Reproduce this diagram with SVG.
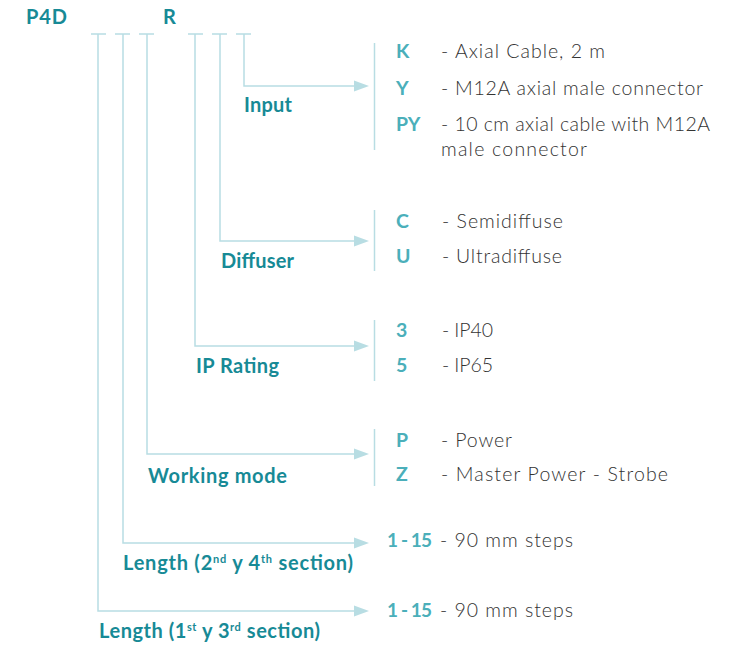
<svg xmlns="http://www.w3.org/2000/svg" width="735" height="646" viewBox="0 0 735 646">
<defs>
<style>
.ln{fill:none;stroke:#b8dde3;stroke-width:1.5}
.br{fill:none;stroke:#b8dde3;stroke-width:1.5}
.ah{fill:#b8dde3}
.code{font-family:Lato,"Noto Sans",sans-serif;font-weight:bold;font-size:20px;fill:#178a96}
.lab{font-family:Lato,"Noto Sans",sans-serif;font-weight:bold;font-size:20px;fill:#178a96}
.opt{font-family:Lato,"Noto Sans",sans-serif;font-weight:bold;font-size:19.5px;fill:#4bafba}
.rng{font-family:Lato,"Noto Sans",sans-serif;font-weight:bold;font-size:19px;fill:#4bafba}
.desc{font-family:Lato,"Noto Sans",sans-serif;font-weight:300;font-size:19.5px;fill:#333333}
.sup{font-size:11px}
</style>
</defs>
<rect width="735" height="646" fill="#ffffff"/>
<g id="header">
<text class="code" x="26" y="24" textLength="41" lengthAdjust="spacing">P4D</text>
<text class="code" x="163" y="24">R</text>
</g>
<g id="connectors">
<path class="ln" d="M91 34H106M115 34H130M139 34H154M188 34H203M212 34H227M236 34H251"/>
<path class="ln" d="M244 34V86H354"/>
<polygon class="ah" points="354,80.5 369,86 354,91.5"/>
<path class="ln" d="M220 34V241H354"/>
<polygon class="ah" points="354,235.5 369,241 354,246.5"/>
<path class="ln" d="M195 34V346H354"/>
<polygon class="ah" points="354,340.5 369,346 354,351.5"/>
<path class="ln" d="M147 34V454H354"/>
<polygon class="ah" points="354,448.5 369,454 354,459.5"/>
<path class="ln" d="M123 34V543H354"/>
<polygon class="ah" points="354,537.5 369,543 354,548.5"/>
<path class="ln" d="M98 34V611H354"/>
<polygon class="ah" points="354,605.5 369,611 354,616.5"/>
</g>
<g id="input">
<text class="lab" x="244" y="112" textLength="48" lengthAdjust="spacing">Input</text>
<line class="br" x1="374.5" y1="43" x2="374.5" y2="150"/>
<text class="opt" x="396" y="58">K</text>
<text class="desc" x="441" y="58" textLength="164" lengthAdjust="spacing">- Axial Cable, 2 m</text>
<text class="opt" x="396" y="95">Y</text>
<text class="desc" x="441" y="95" textLength="262" lengthAdjust="spacing">- M12A axial male connector</text>
<text class="opt" x="396" y="131">PY</text>
<text class="desc" x="441" y="131" textLength="269" lengthAdjust="spacing">- 10 cm axial cable with M12A</text>
<text class="desc" x="441" y="156" textLength="146" lengthAdjust="spacing">male connector</text>
</g>
<g id="diffuser">
<text class="lab" x="221" y="268" textLength="73" lengthAdjust="spacing">Diffuser</text>
<line class="br" x1="374.5" y1="210" x2="374.5" y2="271"/>
<text class="opt" x="396" y="228">C</text>
<text class="desc" x="442" y="228" textLength="121" lengthAdjust="spacing">- Semidiffuse</text>
<text class="opt" x="396" y="263">U</text>
<text class="desc" x="442" y="263" textLength="120" lengthAdjust="spacing">- Ultradiffuse</text>
</g>
<g id="ip-rating">
<text class="lab" x="196" y="373" textLength="83" lengthAdjust="spacing">IP Rating</text>
<line class="br" x1="374.5" y1="320" x2="374.5" y2="381"/>
<text class="opt" x="396" y="337">3</text>
<text class="desc" x="442" y="337" textLength="51" lengthAdjust="spacing">- IP40</text>
<text class="opt" x="396" y="372">5</text>
<text class="desc" x="442" y="372" textLength="51" lengthAdjust="spacing">- IP65</text>
</g>
<g id="working-mode">
<text class="lab" x="148" y="483" textLength="139" lengthAdjust="spacing">Working mode</text>
<line class="br" x1="374.5" y1="429" x2="374.5" y2="486"/>
<text class="opt" x="396" y="447">P</text>
<text class="desc" x="441" y="447" textLength="71" lengthAdjust="spacing">- Power</text>
<text class="opt" x="396" y="481">Z</text>
<text class="desc" x="441" y="481" textLength="227" lengthAdjust="spacing">- Master Power - Strobe</text>
</g>
<g id="length-2-4">
<text class="lab" x="123" y="570" textLength="230" lengthAdjust="spacing">Length (2<tspan class="sup" dy="-7">nd</tspan><tspan dy="7"> y 4</tspan><tspan class="sup" dy="-7">th</tspan><tspan dy="7"> section)</tspan></text>
<text class="rng" x="387" y="547" textLength="45" lengthAdjust="spacing">1 - 15</text>
<text class="desc" x="440" y="547" textLength="133" lengthAdjust="spacing">- 90 mm steps</text>
</g>
<g id="length-1-3">
<text class="lab" x="99" y="638" textLength="221" lengthAdjust="spacing">Length (1<tspan class="sup" dy="-7">st</tspan><tspan dy="7"> y 3</tspan><tspan class="sup" dy="-7">rd</tspan><tspan dy="7"> section)</tspan></text>
<text class="rng" x="387" y="617" textLength="45" lengthAdjust="spacing">1 - 15</text>
<text class="desc" x="440" y="617" textLength="133" lengthAdjust="spacing">- 90 mm steps</text>
</g>
</svg>
